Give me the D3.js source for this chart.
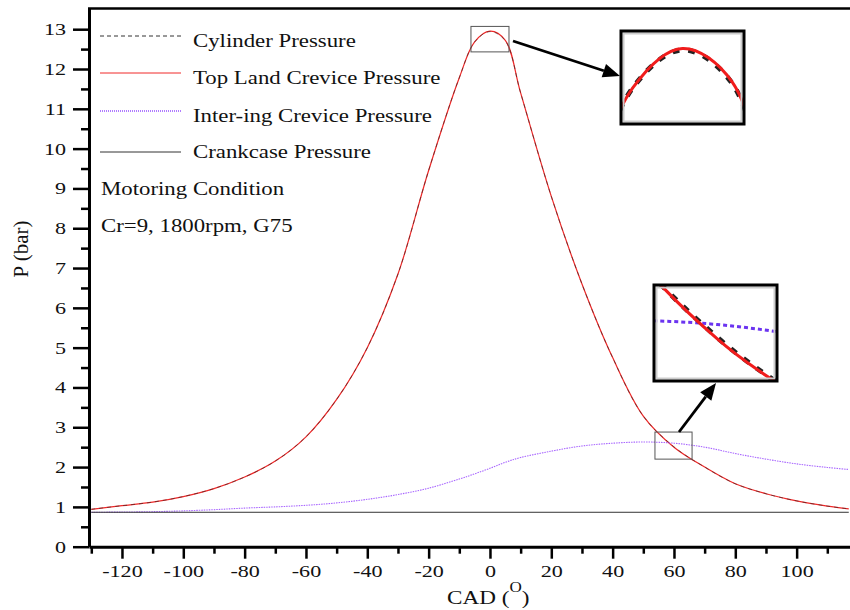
<!DOCTYPE html>
<html>
<head>
<meta charset="utf-8">
<script src="https://cdn.jsdelivr.net/npm/d3@7"></script>
<style>
  body { margin: 0; background: #fff; }
  text { font-family: "Liberation Serif", "Times New Roman", serif; fill: #111; }
</style>
</head>
<body>
<svg width="850" height="610"></svg>
<script>
// crank angle (deg) and pressures (bar)
const cad = [-130, -120, -110, -100, -90, -80, -70, -60, -50, -40, -30, -20, -10, -5, 0, 5, 10, 20, 30, 40, 50, 60, 70, 80, 90, 100, 110, 117]
const cylinder = [0.94, 1.03, 1.12, 1.26, 1.46, 1.75, 2.15, 2.76, 3.7, 5.0, 6.85, 9.45, 11.78, 12.68, 12.94, 12.71, 11.4, 8.8, 6.6, 4.75, 3.28, 2.51, 2.0, 1.58, 1.33, 1.15, 1.02, 0.95]
const topLand = [0.94, 1.03, 1.12, 1.26, 1.46, 1.75, 2.15, 2.76, 3.7, 5.0, 6.85, 9.45, 11.78, 12.68, 12.95, 12.72, 11.4, 8.8, 6.6, 4.75, 3.28, 2.5, 2.0, 1.58, 1.33, 1.15, 1.02, 0.95]
const interRing = [0.865, 0.87, 0.88, 0.9, 0.93, 0.97, 1.0, 1.04, 1.1, 1.19, 1.31, 1.47, 1.7, 1.83, 1.97, 2.12, 2.24, 2.4, 2.53, 2.6, 2.63, 2.6, 2.5, 2.34, 2.2, 2.08, 1.99, 1.94]
const crankCad = [-130, 117]
const crankcase = [0.865, 0.865]

const yTicks = [0, 1, 2, 3, 4, 5, 6, 7, 8, 9, 10, 11, 12, 13]
const xTicks = [-120, -100, -80, -60, -40, -20, 0, 20, 40, 60, 80, 100]
const legendLabels = ["Cylinder Pressure", "Top Land Crevice Pressure", "Inter-ing Crevice Pressure", "Crankcase Pressure"]
const notes = ["Motoring Condition", "Cr=9, 1800rpm, G75"]

const svg = d3.select('svg')

const x = d3.scaleLinear().domain([-130.75, 117.4]).range([89, 850])
const y = d3.scaleLinear().domain([0, 13.52]).range([546.7, 8.5])

const toPts = (xs, ys) => xs.map((c, i) => ({ c: c, p: ys[i] }))

const series = [
  { name: 'top', pts: toPts(cad, topLand), stroke: '#f02828', width: 1.2, dash: null },
  { name: 'cyl', pts: toPts(cad, cylinder), stroke: '#222', width: 0.9, dash: '4,4', opacity: 0.6 },
  { name: 'inter', pts: toPts(cad, interRing), stroke: '#a866ff', width: 1.1, dash: '1.5,1' },
  { name: 'crank', pts: toPts(crankCad, crankcase), stroke: '#333', width: 1, dash: null }
]

const defs = svg.append('defs')
defs.append('clipPath').attr('id', 'plotClip')
  .append('rect').attr('x', 89).attr('y', 8).attr('width', 761).attr('height', 540)

// minor ticks
svg.append('g')
  .attr('transform', 'translate(89,0)')
  .call(d3.axisLeft(y).tickValues(d3.range(0.5, 13.5, 1)).tickSize(8).tickFormat(''))
  .call(g => g.select('.domain').remove())
  .selectAll('line').attr('stroke', '#000').attr('stroke-width', 2.5)

svg.append('g')
  .attr('transform', 'translate(0,546.7)')
  .call(d3.axisBottom(x).tickValues(d3.range(-130, 120, 20)).tickSize(7).tickFormat(''))
  .call(g => g.select('.domain').remove())
  .selectAll('line').attr('stroke', '#000').attr('stroke-width', 2.5)

// major axes
const gy = svg.append('g')
  .attr('transform', 'translate(89,0)')
  .call(d3.axisLeft(y).tickValues(yTicks).tickSize(16).tickSizeOuter(0).tickPadding(0).tickFormat(d => String(d)))
gy.select('.domain').attr('stroke', '#000').attr('stroke-width', 3)
gy.selectAll('.tick line').attr('stroke', '#000').attr('stroke-width', 2.5)
gy.selectAll('.tick text')
  .attr('x', -23 / 1.3)
  .attr('transform', 'scale(1.3,1)')
  .style('font-size', '17px')
  .style('font-family', '"Liberation Serif", serif')
  .attr('fill', '#111')

const gx = svg.append('g')
  .attr('transform', 'translate(0,546.7)')
  .call(d3.axisBottom(x).tickValues(xTicks).tickSize(12).tickSizeOuter(0).tickPadding(6).tickFormat(d => String(d)))
gx.select('.domain').attr('stroke', '#000').attr('stroke-width', 3)
gx.selectAll('.tick line').attr('stroke', '#000').attr('stroke-width', 2.5)
gx.selectAll('.tick text')
  .attr('transform', 'scale(1.3,1)')
  .style('font-size', '17px')
  .style('font-family', '"Liberation Serif", serif')
  .attr('fill', '#111')

// top frame line
svg.append('line')
  .attr('x1', 88).attr('x2', 850).attr('y1', 8.5).attr('y2', 8.5)
  .attr('stroke', '#000').attr('stroke-width', 2.5)

// curves
const line = (xs, ys) => d3.line().x(d => xs(d.c)).y(d => ys(d.p)).curve(d3.curveCatmullRom.alpha(0.5))

const plot = svg.append('g').attr('clip-path', 'url(#plotClip)')
series.forEach(s => {
  plot.append('path')
    .datum(s.pts)
    .attr('d', line(x, y))
    .attr('fill', 'none')
    .attr('stroke', s.stroke)
    .attr('stroke-width', s.width)
    .attr('stroke-dasharray', s.dash)
    .attr('opacity', s.opacity || 1)
})

// legend
const legendRows = [36, 73, 111, 152]
const legendStyle = [
  { stroke: '#333', dash: '4,3', width: 1 },
  { stroke: '#f02828', dash: null, width: 1 },
  { stroke: '#b07cff', dash: '1,1', width: 2 },
  { stroke: '#333', dash: null, width: 1 }
]
legendLabels.forEach((label, i) => {
  const ly = legendRows[i]
  svg.append('line')
    .attr('x1', 100).attr('x2', 181).attr('y1', ly).attr('y2', ly)
    .attr('stroke', legendStyle[i].stroke)
    .attr('stroke-width', legendStyle[i].width)
    .attr('stroke-dasharray', legendStyle[i].dash)
  svg.append('g')
    .attr('transform', 'translate(193,' + (ly + (i === 3 ? 6 : 10.5)) + ')')
    .append('text')
    .attr('transform', 'scale(1.17,1)')
    .style('font-size', '19.5px')
    .text(label)
})

notes.forEach((t, i) => {
  svg.append('g')
    .attr('transform', 'translate(101,' + (195 + i * 37) + ')')
    .append('text')
    .attr('transform', 'scale(1.17,1)')
    .style('font-size', '19.5px')
    .text(t)
})

// axis titles
const xt = svg.append('g').attr('transform', 'translate(447,604)')
  .append('text').attr('transform', 'scale(1.22,1)').style('font-size', '19px')
xt.append('tspan').text('CAD (')
xt.append('tspan').attr('dy', -12).style('font-size', '14px').text('O')
xt.append('tspan').attr('dy', 12).text(')')

svg.append('text')
  .attr('transform', 'translate(28,249) rotate(-90)')
  .attr('text-anchor', 'middle')
  .style('font-size', '21px')
  .text('P (bar)')

// zoom insets
const insets = [
  { src: { x: [-6.2, 6.2], y: [12.43, 13.07] }, dst: { x0: 621, x1: 744, y0: 31, y1: 124 },
    arrow: { from: [513, 41], to: [620, 76] } },
  { src: { x: [53.8, 65.9], y: [2.2, 2.88] }, dst: { x0: 654, x1: 777, y0: 285, y1: 381 },
    arrow: { from: [679, 432], to: [716, 383] } }
]

insets.forEach((ins, k) => {
  const xs = d3.scaleLinear().domain(ins.src.x).range([ins.dst.x0, ins.dst.x1])
  const ys = d3.scaleLinear().domain(ins.src.y).range([ins.dst.y1, ins.dst.y0])
  const w = ins.dst.x1 - ins.dst.x0
  const h = ins.dst.y1 - ins.dst.y0

  // box on the main plot
  svg.append('rect')
    .attr('x', x(ins.src.x[0])).attr('y', y(ins.src.y[1]))
    .attr('width', x(ins.src.x[1]) - x(ins.src.x[0]))
    .attr('height', y(ins.src.y[0]) - y(ins.src.y[1]))
    .attr('fill', 'none').attr('stroke', '#555').attr('stroke-width', 1)

  defs.append('clipPath').attr('id', 'inset' + k)
    .append('rect').attr('x', ins.dst.x0).attr('y', ins.dst.y0).attr('width', w).attr('height', h)

  svg.append('rect')
    .attr('x', ins.dst.x0).attr('y', ins.dst.y0).attr('width', w).attr('height', h)
    .attr('fill', '#fff')

  const g = svg.append('g').attr('clip-path', 'url(#inset' + k + ')')
  g.append('path').datum(toPts(cad, interRing)).attr('d', line(xs, ys))
    .attr('fill', 'none').attr('stroke', '#6b34f0').attr('stroke-width', 3).attr('stroke-dasharray', '4,3')
  g.append('path').datum(toPts(cad, cylinder)).attr('d', line(xs, ys))
    .attr('fill', 'none').attr('stroke', '#222').attr('stroke-width', 5).attr('stroke-dasharray', '7,9')
  g.append('path').datum(toPts(cad, topLand)).attr('d', line(xs, ys))
    .attr('fill', 'none').attr('stroke', '#f01c1c').attr('stroke-width', 3)

  svg.append('rect')
    .attr('x', ins.dst.x0 + 2.5).attr('y', ins.dst.y0 + 2.5).attr('width', w - 5).attr('height', h - 5)
    .attr('fill', 'none').attr('stroke', '#ccc').attr('stroke-width', 2)
  svg.append('rect')
    .attr('x', ins.dst.x0).attr('y', ins.dst.y0).attr('width', w).attr('height', h)
    .attr('fill', 'none').attr('stroke', '#000').attr('stroke-width', 3)

  // arrow
  const [x1, y1] = ins.arrow.from
  const [x2, y2] = ins.arrow.to
  const ang = Math.atan2(y2 - y1, x2 - x1)
  const len = 17, half = 7
  const bx = x2 - len * Math.cos(ang), by = y2 - len * Math.sin(ang)
  svg.append('line')
    .attr('x1', x1).attr('y1', y1).attr('x2', bx).attr('y2', by)
    .attr('stroke', '#000').attr('stroke-width', 2.8)
  svg.append('path')
    .attr('d', d3.line()([
      [x2, y2],
      [bx + half * Math.sin(ang), by - half * Math.cos(ang)],
      [bx - half * Math.sin(ang), by + half * Math.cos(ang)]
    ]) + 'Z')
    .attr('fill', '#000')
})
</script>
</body>
</html>
